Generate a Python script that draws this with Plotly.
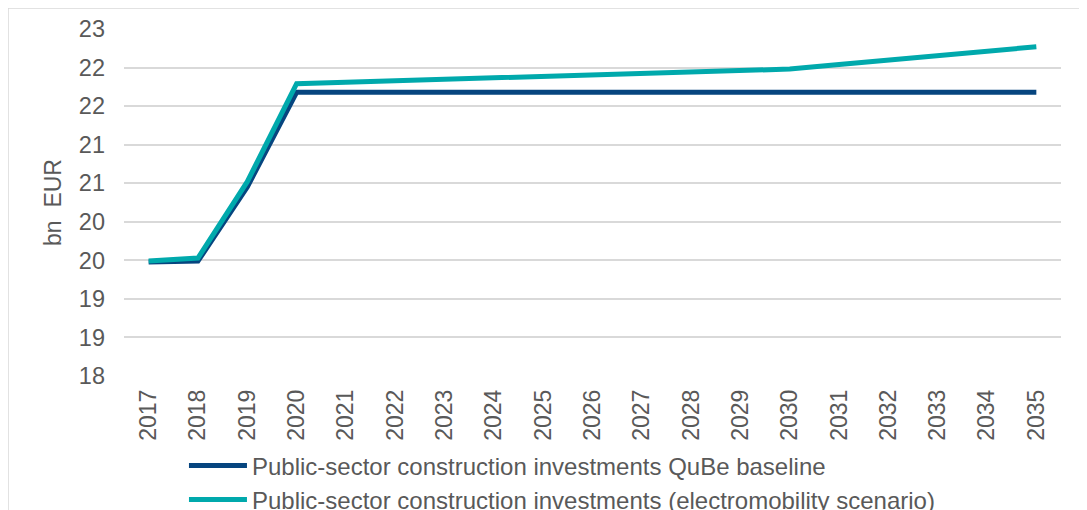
import plotly.graph_objects as go

years = [str(y) for y in range(2017, 2036)]
baseline = [19.48, 19.49, 20.45, 21.68, 21.68, 21.68, 21.68, 21.68, 21.68, 21.68,
            21.68, 21.68, 21.68, 21.68, 21.68, 21.68, 21.68, 21.68, 21.68]
electro = [19.49, 19.53, 20.52, 21.79, 21.81, 21.83, 21.85, 21.87, 21.89, 21.91,
           21.93, 21.94, 21.96, 21.98, 22.04, 22.10, 22.15, 22.21, 22.27]
ytick_vals = [18.0, 18.5, 19.0, 19.5, 20.0, 20.5, 21.0, 21.5, 22.0, 22.5]
ytick_text = ["18", "19", "19", "20", "20", "21", "21", "22", "22", "23"]

name_base = "Public-sector construction investments QuBe baseline"
name_el = "Public-sector construction investments (electromobility scenario)"

grey = "#595959"
grid = "#D9D9D9"

fig = go.Figure()
fig.add_trace(go.Scatter(x=years, y=baseline, mode="lines", name=name_base,
                         line=dict(color="#06457F", width=5)))
fig.add_trace(go.Scatter(x=years, y=electro, mode="lines", name=name_el,
                         line=dict(color="#00A9AC", width=5)))

fig.update_layout(
    width=1079, height=502,
    margin=dict(l=116, r=26, t=21, b=134, autoexpand=False),
    paper_bgcolor="white", plot_bgcolor="white",
    font=dict(family="Liberation Sans, Arial, sans-serif", size=23, color=grey),
    showlegend=True,
    legend=dict(orientation="v", x=0.064, xanchor="left", y=-0.194, yanchor="top",
                font=dict(size=24, color=grey), tracegroupgap=0,
                bgcolor="rgba(0,0,0,0)", itemwidth=58),
    shapes=[dict(type="rect", xref="paper", yref="paper",
                 x0=-0.1238, x1=1.2, y0=-0.6, y1=1.0605,
                 line=dict(color=grid, width=1.5), layer="below")],
)
fig.update_xaxes(type="category", range=[-0.5, 18.5], showgrid=False,
                 tickangle=-90, ticks="", ticklabelstandoff=8, automargin=False,
                 showline=False, zeroline=False,
                 tickfont=dict(size=23, color=grey))
fig.update_yaxes(range=[18, 22.5], tickvals=ytick_vals, ticktext=ytick_text,
                 showgrid=True, gridcolor=grid, gridwidth=1.5, zeroline=False,
                 showline=False, ticks="", ticklabelstandoff=18, automargin=False,
                 tickfont=dict(size=23.5, color=grey),
                 title=dict(text="bn  EUR", standoff=10, font=dict(size=23, color=grey)))

fig.write_html("out.html")
